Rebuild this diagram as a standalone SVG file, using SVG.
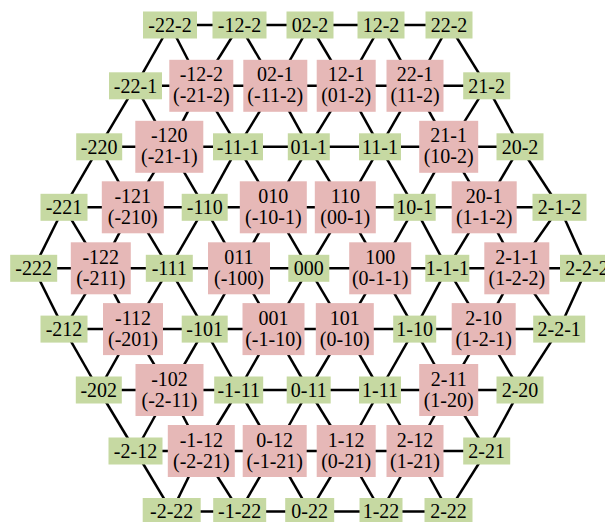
<svg xmlns="http://www.w3.org/2000/svg" width="605" height="522" viewBox="0 0 605 522">
<style>
.e line{stroke:#000;stroke-width:2.5}
.g rect{fill:#c6d9a2}
.p rect{fill:#e6b8b7}
text{font-family:"Liberation Serif","Times New Roman",serif;font-size:20px;fill:#000;text-anchor:middle}
</style>
<rect width="605" height="522" fill="#fff"/>
<g id="connectors" class="e">
<line x1="170" y1="25" x2="239.5" y2="25"/><line x1="239.5" y1="25" x2="310" y2="25"/><line x1="310" y1="25" x2="381" y2="25"/><line x1="381" y1="25" x2="449" y2="25"/>
<line x1="135.5" y1="85.8" x2="201.3" y2="85.8"/><line x1="201.3" y1="85.8" x2="275.3" y2="85.8"/><line x1="275.3" y1="85.8" x2="346.2" y2="85.8"/><line x1="346.2" y1="85.8" x2="415" y2="85.8"/><line x1="415" y1="85.8" x2="486.7" y2="85.8"/>
<line x1="99.2" y1="146.8" x2="169.3" y2="146.8"/><line x1="169.3" y1="146.8" x2="238" y2="146.8"/><line x1="238" y1="146.8" x2="308.8" y2="146.8"/><line x1="308.8" y1="146.8" x2="380" y2="146.8"/><line x1="380" y1="146.8" x2="448.7" y2="146.8"/><line x1="448.7" y1="146.8" x2="520" y2="146.8"/>
<line x1="64" y1="207.3" x2="132.8" y2="207.3"/><line x1="132.8" y1="207.3" x2="204.7" y2="207.3"/><line x1="204.7" y1="207.3" x2="273.3" y2="207.3"/><line x1="273.3" y1="207.3" x2="345.3" y2="207.3"/><line x1="345.3" y1="207.3" x2="414.7" y2="207.3"/><line x1="414.7" y1="207.3" x2="484.2" y2="207.3"/><line x1="484.2" y1="207.3" x2="559.5" y2="207.3"/>
<line x1="33.7" y1="268.3" x2="100.8" y2="268.3"/><line x1="100.8" y1="268.3" x2="169.3" y2="268.3"/><line x1="169.3" y1="268.3" x2="239" y2="268.3"/><line x1="239" y1="268.3" x2="308.8" y2="268.3"/><line x1="308.8" y1="268.3" x2="380.2" y2="268.3"/><line x1="380.2" y1="268.3" x2="447.3" y2="268.3"/><line x1="447.3" y1="268.3" x2="516.8" y2="268.3"/><line x1="516.8" y1="268.3" x2="587" y2="268.3"/>
<line x1="64" y1="329.1" x2="133" y2="329.1"/><line x1="133" y1="329.1" x2="204.7" y2="329.1"/><line x1="204.7" y1="329.1" x2="273.5" y2="329.1"/><line x1="273.5" y1="329.1" x2="344.8" y2="329.1"/><line x1="344.8" y1="329.1" x2="414.7" y2="329.1"/><line x1="414.7" y1="329.1" x2="483.7" y2="329.1"/><line x1="483.7" y1="329.1" x2="559.2" y2="329.1"/>
<line x1="98.8" y1="390" x2="169.5" y2="390"/><line x1="169.5" y1="390" x2="238.7" y2="390"/><line x1="238.7" y1="390" x2="308.7" y2="390"/><line x1="308.7" y1="390" x2="380" y2="390"/><line x1="380" y1="390" x2="448.7" y2="390"/><line x1="448.7" y1="390" x2="520" y2="390"/>
<line x1="135.5" y1="451" x2="201.3" y2="451"/><line x1="201.3" y1="451" x2="274.7" y2="451"/><line x1="274.7" y1="451" x2="346.2" y2="451"/><line x1="346.2" y1="451" x2="415" y2="451"/><line x1="415" y1="451" x2="486.7" y2="451"/>
<line x1="171.7" y1="511.5" x2="239.7" y2="511.5"/><line x1="239.7" y1="511.5" x2="309.7" y2="511.5"/><line x1="309.7" y1="511.5" x2="381" y2="511.5"/><line x1="381" y1="511.5" x2="448.5" y2="511.5"/>
<line x1="170" y1="25" x2="135.5" y2="85.8"/><line x1="170" y1="25" x2="201.3" y2="85.8"/><line x1="239.5" y1="25" x2="201.3" y2="85.8"/><line x1="239.5" y1="25" x2="275.3" y2="85.8"/><line x1="310" y1="25" x2="275.3" y2="85.8"/><line x1="310" y1="25" x2="346.2" y2="85.8"/><line x1="381" y1="25" x2="346.2" y2="85.8"/><line x1="381" y1="25" x2="415" y2="85.8"/><line x1="449" y1="25" x2="415" y2="85.8"/><line x1="449" y1="25" x2="486.7" y2="85.8"/>
<line x1="135.5" y1="85.8" x2="99.2" y2="146.8"/><line x1="135.5" y1="85.8" x2="169.3" y2="146.8"/><line x1="201.3" y1="85.8" x2="169.3" y2="146.8"/><line x1="201.3" y1="85.8" x2="238" y2="146.8"/><line x1="275.3" y1="85.8" x2="238" y2="146.8"/><line x1="275.3" y1="85.8" x2="308.8" y2="146.8"/><line x1="346.2" y1="85.8" x2="308.8" y2="146.8"/><line x1="346.2" y1="85.8" x2="380" y2="146.8"/><line x1="415" y1="85.8" x2="380" y2="146.8"/><line x1="415" y1="85.8" x2="448.7" y2="146.8"/><line x1="486.7" y1="85.8" x2="448.7" y2="146.8"/><line x1="486.7" y1="85.8" x2="520" y2="146.8"/>
<line x1="99.2" y1="146.8" x2="64" y2="207.3"/><line x1="99.2" y1="146.8" x2="132.8" y2="207.3"/><line x1="169.3" y1="146.8" x2="132.8" y2="207.3"/><line x1="169.3" y1="146.8" x2="204.7" y2="207.3"/><line x1="238" y1="146.8" x2="204.7" y2="207.3"/><line x1="238" y1="146.8" x2="273.3" y2="207.3"/><line x1="308.8" y1="146.8" x2="273.3" y2="207.3"/><line x1="308.8" y1="146.8" x2="345.3" y2="207.3"/><line x1="380" y1="146.8" x2="345.3" y2="207.3"/><line x1="380" y1="146.8" x2="414.7" y2="207.3"/><line x1="448.7" y1="146.8" x2="414.7" y2="207.3"/><line x1="448.7" y1="146.8" x2="484.2" y2="207.3"/><line x1="520" y1="146.8" x2="484.2" y2="207.3"/><line x1="520" y1="146.8" x2="559.5" y2="207.3"/>
<line x1="64" y1="207.3" x2="33.7" y2="268.3"/><line x1="64" y1="207.3" x2="100.8" y2="268.3"/><line x1="132.8" y1="207.3" x2="100.8" y2="268.3"/><line x1="132.8" y1="207.3" x2="169.3" y2="268.3"/><line x1="204.7" y1="207.3" x2="169.3" y2="268.3"/><line x1="204.7" y1="207.3" x2="239" y2="268.3"/><line x1="273.3" y1="207.3" x2="239" y2="268.3"/><line x1="273.3" y1="207.3" x2="308.8" y2="268.3"/><line x1="345.3" y1="207.3" x2="308.8" y2="268.3"/><line x1="345.3" y1="207.3" x2="380.2" y2="268.3"/><line x1="414.7" y1="207.3" x2="380.2" y2="268.3"/><line x1="414.7" y1="207.3" x2="447.3" y2="268.3"/><line x1="484.2" y1="207.3" x2="447.3" y2="268.3"/><line x1="484.2" y1="207.3" x2="516.8" y2="268.3"/><line x1="559.5" y1="207.3" x2="516.8" y2="268.3"/><line x1="559.5" y1="207.3" x2="587" y2="268.3"/>
<line x1="64" y1="329.1" x2="33.7" y2="268.3"/><line x1="64" y1="329.1" x2="100.8" y2="268.3"/><line x1="133" y1="329.1" x2="100.8" y2="268.3"/><line x1="133" y1="329.1" x2="169.3" y2="268.3"/><line x1="204.7" y1="329.1" x2="169.3" y2="268.3"/><line x1="204.7" y1="329.1" x2="239" y2="268.3"/><line x1="273.5" y1="329.1" x2="239" y2="268.3"/><line x1="273.5" y1="329.1" x2="308.8" y2="268.3"/><line x1="344.8" y1="329.1" x2="308.8" y2="268.3"/><line x1="344.8" y1="329.1" x2="380.2" y2="268.3"/><line x1="414.7" y1="329.1" x2="380.2" y2="268.3"/><line x1="414.7" y1="329.1" x2="447.3" y2="268.3"/><line x1="483.7" y1="329.1" x2="447.3" y2="268.3"/><line x1="483.7" y1="329.1" x2="516.8" y2="268.3"/><line x1="559.2" y1="329.1" x2="516.8" y2="268.3"/><line x1="559.2" y1="329.1" x2="587" y2="268.3"/>
<line x1="98.8" y1="390" x2="64" y2="329.1"/><line x1="98.8" y1="390" x2="133" y2="329.1"/><line x1="169.5" y1="390" x2="133" y2="329.1"/><line x1="169.5" y1="390" x2="204.7" y2="329.1"/><line x1="238.7" y1="390" x2="204.7" y2="329.1"/><line x1="238.7" y1="390" x2="273.5" y2="329.1"/><line x1="308.7" y1="390" x2="273.5" y2="329.1"/><line x1="308.7" y1="390" x2="344.8" y2="329.1"/><line x1="380" y1="390" x2="344.8" y2="329.1"/><line x1="380" y1="390" x2="414.7" y2="329.1"/><line x1="448.7" y1="390" x2="414.7" y2="329.1"/><line x1="448.7" y1="390" x2="483.7" y2="329.1"/><line x1="520" y1="390" x2="483.7" y2="329.1"/><line x1="520" y1="390" x2="559.2" y2="329.1"/>
<line x1="135.5" y1="451" x2="98.8" y2="390"/><line x1="135.5" y1="451" x2="169.5" y2="390"/><line x1="201.3" y1="451" x2="169.5" y2="390"/><line x1="201.3" y1="451" x2="238.7" y2="390"/><line x1="274.7" y1="451" x2="238.7" y2="390"/><line x1="274.7" y1="451" x2="308.7" y2="390"/><line x1="346.2" y1="451" x2="308.7" y2="390"/><line x1="346.2" y1="451" x2="380" y2="390"/><line x1="415" y1="451" x2="380" y2="390"/><line x1="415" y1="451" x2="448.7" y2="390"/><line x1="486.7" y1="451" x2="448.7" y2="390"/><line x1="486.7" y1="451" x2="520" y2="390"/>
<line x1="171.7" y1="511.5" x2="135.5" y2="451"/><line x1="171.7" y1="511.5" x2="201.3" y2="451"/><line x1="239.7" y1="511.5" x2="201.3" y2="451"/><line x1="239.7" y1="511.5" x2="274.7" y2="451"/><line x1="309.7" y1="511.5" x2="274.7" y2="451"/><line x1="309.7" y1="511.5" x2="346.2" y2="451"/><line x1="381" y1="511.5" x2="346.2" y2="451"/><line x1="381" y1="511.5" x2="415" y2="451"/><line x1="448.5" y1="511.5" x2="415" y2="451"/><line x1="448.5" y1="511.5" x2="486.7" y2="451"/>
</g>
<g id="nodes">
<g id="g-22-2" class="g"><rect x="143" y="11.5" width="54" height="27"/><text x="170" y="31.8">-22-2</text></g>
<g id="g-12-2" class="g"><rect x="212.5" y="11.5" width="54" height="27"/><text x="239.5" y="31.8">-12-2</text></g>
<g id="g02-2" class="g"><rect x="286.5" y="11.5" width="47" height="27"/><text x="310" y="31.8">02-2</text></g>
<g id="g12-2" class="g"><rect x="357.5" y="11.5" width="47" height="27"/><text x="381" y="31.8">12-2</text></g>
<g id="g22-2" class="g"><rect x="425.5" y="11.5" width="47" height="27"/><text x="449" y="31.8">22-2</text></g>
<g id="g-22-1" class="g"><rect x="109" y="72.3" width="53" height="27"/><text x="135.5" y="92.6">-22-1</text></g>
<g id="p-12-2" class="p"><rect x="169.3" y="59.8" width="64" height="52"/><text x="201.3" y="81.3">-12-2</text><text x="201.3" y="102.3">(-21-2)</text></g>
<g id="p02-1" class="p"><rect x="243.3" y="59.8" width="64" height="52"/><text x="275.3" y="81.3">02-1</text><text x="275.3" y="102.3">(-11-2)</text></g>
<g id="p12-1" class="p"><rect x="316.7" y="59.8" width="59" height="52"/><text x="346.2" y="81.3">12-1</text><text x="346.2" y="102.3">(01-2)</text></g>
<g id="p22-1" class="p"><rect x="386.5" y="59.8" width="57" height="52"/><text x="415" y="81.3">22-1</text><text x="415" y="102.3">(11-2)</text></g>
<g id="g21-2" class="g"><rect x="463.2" y="72.3" width="47" height="27"/><text x="486.7" y="92.6">21-2</text></g>
<g id="g-220" class="g"><rect x="76.2" y="133.3" width="46" height="27"/><text x="99.2" y="153.6">-220</text></g>
<g id="p-120" class="p"><rect x="135.3" y="120.8" width="68" height="52"/><text x="169.3" y="142.3">-120</text><text x="169.3" y="163.3">(-21-1)</text></g>
<g id="g-11-1" class="g"><rect x="213" y="133.3" width="50" height="27"/><text x="238" y="153.6">-11-1</text></g>
<g id="g01-1" class="g"><rect x="287.8" y="133.3" width="42" height="27"/><text x="308.8" y="153.6">01-1</text></g>
<g id="g11-1" class="g"><rect x="359" y="133.3" width="42" height="27"/><text x="380" y="153.6">11-1</text></g>
<g id="p21-1" class="p"><rect x="419.2" y="120.8" width="59" height="52"/><text x="448.7" y="142.3">21-1</text><text x="448.7" y="163.3">(10-2)</text></g>
<g id="g20-2" class="g"><rect x="496.5" y="133.3" width="47" height="27"/><text x="520" y="153.6">20-2</text></g>
<g id="g-221" class="g"><rect x="40.5" y="193.8" width="47" height="27"/><text x="64" y="214.1">-221</text></g>
<g id="p-121" class="p"><rect x="101.8" y="181.3" width="62" height="52"/><text x="132.8" y="202.8">-121</text><text x="132.8" y="223.8">(-210)</text></g>
<g id="g-110" class="g"><rect x="181.7" y="193.8" width="46" height="27"/><text x="204.7" y="214.1">-110</text></g>
<g id="p010" class="p"><rect x="239.8" y="181.3" width="67" height="52"/><text x="273.3" y="202.8">010</text><text x="273.3" y="223.8">(-10-1)</text></g>
<g id="p110" class="p"><rect x="314.8" y="181.3" width="61" height="52"/><text x="345.3" y="202.8">110</text><text x="345.3" y="223.8">(00-1)</text></g>
<g id="g10-1" class="g"><rect x="393.7" y="193.8" width="42" height="27"/><text x="414.7" y="214.1">10-1</text></g>
<g id="p20-1" class="p"><rect x="451.7" y="181.3" width="65" height="52"/><text x="484.2" y="202.8">20-1</text><text x="484.2" y="223.8">(1-1-2)</text></g>
<g id="g2-1-2" class="g"><rect x="532.5" y="193.8" width="54" height="27"/><text x="559.5" y="214.1">2-1-2</text></g>
<g id="g-222" class="g"><rect x="10.2" y="254.8" width="47" height="27"/><text x="33.7" y="275.1">-222</text></g>
<g id="p-122" class="p"><rect x="70.8" y="242.3" width="60" height="52"/><text x="100.8" y="263.8">-122</text><text x="100.8" y="284.8">(-211)</text></g>
<g id="g-111" class="g"><rect x="145.8" y="254.8" width="47" height="27"/><text x="169.3" y="275.1">-111</text></g>
<g id="p011" class="p"><rect x="208" y="242.3" width="62" height="52"/><text x="239" y="263.8">011</text><text x="239" y="284.8">(-100)</text></g>
<g id="g000" class="g"><rect x="288.3" y="254.8" width="41" height="27"/><text x="308.8" y="275.1">000</text></g>
<g id="p100" class="p"><rect x="349.2" y="242.3" width="62" height="52"/><text x="380.2" y="263.8">100</text><text x="380.2" y="284.8">(0-1-1)</text></g>
<g id="g1-1-1" class="g"><rect x="425.3" y="254.8" width="44" height="27"/><text x="447.3" y="275.1">1-1-1</text></g>
<g id="p2-1-1" class="p"><rect x="484.3" y="242.3" width="65" height="52"/><text x="516.8" y="263.8">2-1-1</text><text x="516.8" y="284.8">(1-2-2)</text></g>
<g id="g2-2-2" class="g"><rect x="560" y="254.8" width="54" height="27"/><text x="587" y="275.1">2-2-2</text></g>
<g id="g-212" class="g"><rect x="40.5" y="315.6" width="47" height="27"/><text x="64" y="335.9">-212</text></g>
<g id="p-112" class="p"><rect x="103" y="303.1" width="60" height="52"/><text x="133" y="324.6">-112</text><text x="133" y="345.6">(-201)</text></g>
<g id="g-101" class="g"><rect x="181.7" y="315.6" width="46" height="27"/><text x="204.7" y="335.9">-101</text></g>
<g id="p001" class="p"><rect x="242.5" y="303.1" width="62" height="52"/><text x="273.5" y="324.6">001</text><text x="273.5" y="345.6">(-1-10)</text></g>
<g id="p101" class="p"><rect x="315.8" y="303.1" width="58" height="52"/><text x="344.8" y="324.6">101</text><text x="344.8" y="345.6">(0-10)</text></g>
<g id="g1-10" class="g"><rect x="393.2" y="315.6" width="43" height="27"/><text x="414.7" y="335.9">1-10</text></g>
<g id="p2-10" class="p"><rect x="451.7" y="303.1" width="64" height="52"/><text x="483.7" y="324.6">2-10</text><text x="483.7" y="345.6">(1-2-1)</text></g>
<g id="g2-2-1" class="g"><rect x="533.2" y="315.6" width="52" height="27"/><text x="559.2" y="335.9">2-2-1</text></g>
<g id="g-202" class="g"><rect x="75.8" y="376.5" width="46" height="27"/><text x="98.8" y="396.8">-202</text></g>
<g id="p-102" class="p"><rect x="135.5" y="364" width="68" height="52"/><text x="169.5" y="385.5">-102</text><text x="169.5" y="406.5">(-2-11)</text></g>
<g id="g-1-11" class="g"><rect x="214.2" y="376.5" width="49" height="27"/><text x="238.7" y="396.8">-1-11</text></g>
<g id="g0-11" class="g"><rect x="286.7" y="376.5" width="44" height="27"/><text x="308.7" y="396.8">0-11</text></g>
<g id="g1-11" class="g"><rect x="359" y="376.5" width="42" height="27"/><text x="380" y="396.8">1-11</text></g>
<g id="p2-11" class="p"><rect x="419.2" y="364" width="59" height="52"/><text x="448.7" y="385.5">2-11</text><text x="448.7" y="406.5">(1-20)</text></g>
<g id="g2-20" class="g"><rect x="496.5" y="376.5" width="47" height="27"/><text x="520" y="396.8">2-20</text></g>
<g id="g-2-12" class="g"><rect x="108.5" y="437.5" width="54" height="27"/><text x="135.5" y="457.8">-2-12</text></g>
<g id="p-1-12" class="p"><rect x="167.8" y="425" width="67" height="52"/><text x="201.3" y="446.5">-1-12</text><text x="201.3" y="467.5">(-2-21)</text></g>
<g id="p0-12" class="p"><rect x="242.7" y="425" width="64" height="52"/><text x="274.7" y="446.5">0-12</text><text x="274.7" y="467.5">(-1-21)</text></g>
<g id="p1-12" class="p"><rect x="316.7" y="425" width="59" height="52"/><text x="346.2" y="446.5">1-12</text><text x="346.2" y="467.5">(0-21)</text></g>
<g id="p2-12" class="p"><rect x="386.5" y="425" width="57" height="52"/><text x="415" y="446.5">2-12</text><text x="415" y="467.5">(1-21)</text></g>
<g id="g2-21" class="g"><rect x="463.2" y="437.5" width="47" height="27"/><text x="486.7" y="457.8">2-21</text></g>
<g id="g-2-22" class="g"><rect x="142.7" y="498" width="58" height="27"/><text x="171.7" y="518.3">-2-22</text></g>
<g id="g-1-22" class="g"><rect x="213.2" y="498" width="53" height="27"/><text x="239.7" y="518.3">-1-22</text></g>
<g id="g0-22" class="g"><rect x="285.2" y="498" width="49" height="27"/><text x="309.7" y="518.3">0-22</text></g>
<g id="g1-22" class="g"><rect x="359.5" y="498" width="43" height="27"/><text x="381" y="518.3">1-22</text></g>
<g id="g2-22" class="g"><rect x="424.5" y="498" width="48" height="27"/><text x="448.5" y="518.3">2-22</text></g>
</g>
</svg>
